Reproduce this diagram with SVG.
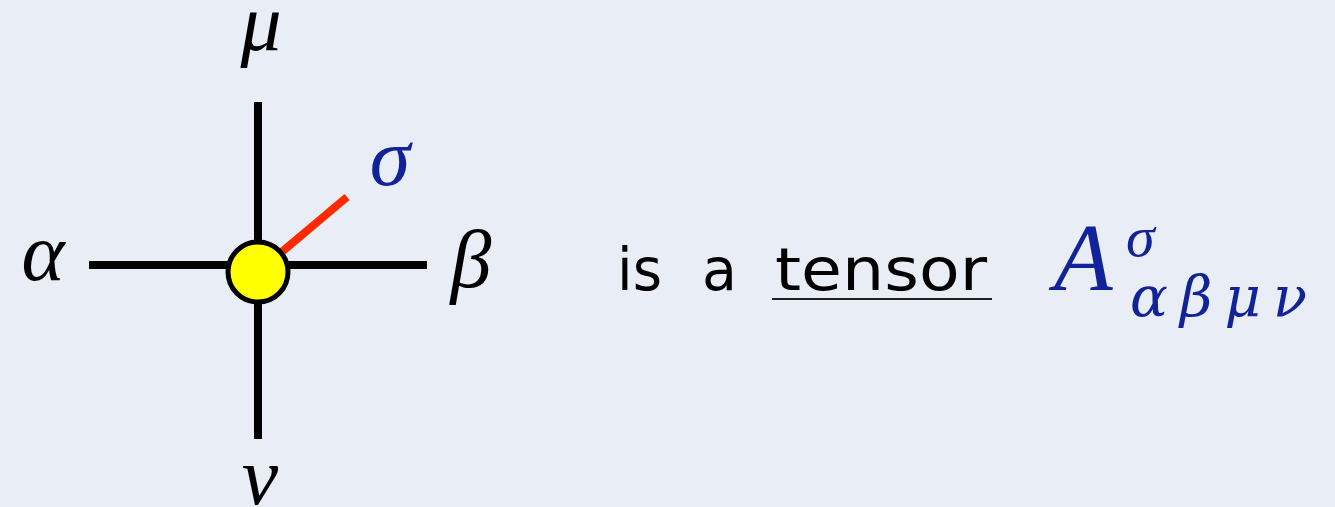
<svg xmlns="http://www.w3.org/2000/svg" width="1335" height="507" viewBox="0 0 1335 507">
<style>
.leg{stroke:#000;stroke-width:8;fill:none}
.math{font-family:"Liberation Serif","DejaVu Serif",serif;font-style:italic}
.lbl{font-size:82px;fill:#000}
.blue{fill:#12239a}
.hand{font-family:"DejaVu Sans","Liberation Sans",sans-serif;font-size:58px;fill:#000}
.sub{font-family:"DejaVu Serif","Liberation Serif",serif;font-style:italic;font-size:56px}
</style>
<rect width="1335" height="507" fill="#e9eef6"/>
<g id="connectors">
<line class="leg" x1="258" y1="102" x2="258" y2="439"/>
<line class="leg" x1="89" y1="265" x2="427" y2="265"/>
<line x1="258" y1="272" x2="347" y2="197" stroke="#ff2a00" stroke-width="8"/>
</g>
<g id="tensor">
<circle cx="258" cy="272" r="30" fill="#ffff00" stroke="#000" stroke-width="5"/>
</g>
<g id="labels">
<text class="math lbl" x="261" y="50" text-anchor="middle">μ</text>
<text class="math lbl" x="43" y="280" text-anchor="middle">α</text>
<text class="math lbl" x="471" y="287" text-anchor="middle">β</text>
<text class="math lbl blue" x="390" y="185" text-anchor="middle">σ</text>
<text class="math lbl" x="260" y="504" text-anchor="middle">ν</text>
</g>
<g id="caption">
<text class="hand" x="617" y="290" textLength="45" lengthAdjust="spacingAndGlyphs">is</text>
<text class="hand" x="702" y="290" textLength="35" lengthAdjust="spacingAndGlyphs">a</text>
<text class="hand" x="775" y="290" textLength="212" lengthAdjust="spacingAndGlyphs">tensor</text>
<line x1="772" y1="299" x2="992" y2="299" stroke="#222" stroke-width="2"/>
<text class="math blue" x="1054" y="290" font-size="96">A</text>
<text class="math blue" x="1126" y="256" font-size="58">σ</text>
<text class="sub blue" x="1130" y="316" textLength="177" lengthAdjust="spacing">αβμν</text>
</g>
</svg>
